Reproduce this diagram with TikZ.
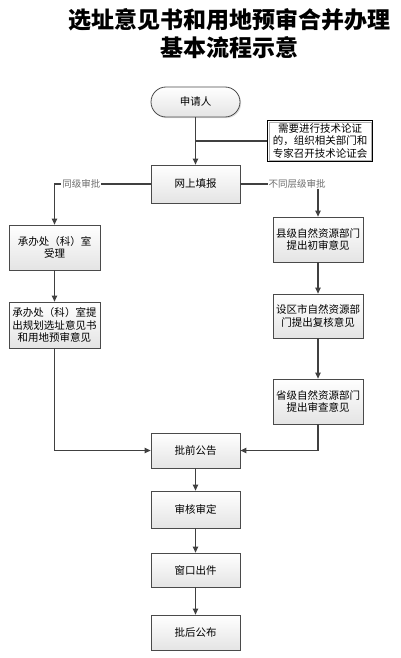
\documentclass[tikz,border=0pt]{standalone}
\usepackage{fontspec}
\setmainfont{Noto Sans CJK SC}
\usetikzlibrary{arrows.meta,shadows}
\definecolor{FlowLine}{HTML}{404040}
\definecolor{FlowBorder}{HTML}{4A4A4A}
\definecolor{FlowFill}{HTML}{E4E4E4}
\definecolor{FlowLabel}{HTML}{6E6E6E}

\begin{document}
\begin{tikzpicture}[x=1pt,y=-1pt,
  flowbox/.style={draw=FlowBorder,line width=.8pt,top color=white,bottom color=FlowFill,
    drop shadow={opacity=.25,shadow xshift=1.2pt,shadow yshift=-1.2pt},
    minimum width=90pt,minimum height=45pt,inner sep=1pt,align=center,
    font=\fontsize{10.5}{12.5}\selectfont},
  startbox/.style={flowbox,rounded corners=15pt,minimum width=89pt,minimum height=30pt},
  notebox/.style={draw=black,line width=.8pt,fill=white,minimum width=105pt,minimum height=41pt,
    inner sep=1pt,align=center,font=\fontsize{10.5}{12.5}\selectfont,
    path picture={\draw[gray!60,line width=.5pt]
      ([shift={(1.5pt,-1.5pt)}]path picture bounding box.north west) rectangle
      ([shift={(-1.5pt,1.5pt)}]path picture bounding box.south east);}},
  flowline/.style={draw=FlowLine,line width=1.1pt},
  flowarrow/.style={flowline,-{Triangle[length=6pt,width=5.5pt]}},
  flowlabel/.style={fill=white,inner sep=1pt,text=FlowLabel,font=\fontsize{9.5}{11}\selectfont}]
  \useasboundingbox (0,0) rectangle (401,658);

  \node[font=\fontsize{23}{28}\selectfont\bfseries,align=center] (title) at (229,34)
    {选址意见书和用地预审合并办理\\基本流程示意};

  \node[startbox] (apply) at (195.5,102) {申请人};
  \node[notebox] (note) at (320,141) {需要进行技术论证\\的，组织相关部门和\\专家召开技术论证会};
  \node[flowbox,minimum width=89pt,minimum height=38pt] (report) at (195.5,184) {网上填报};

  \node[flowbox,minimum width=91pt] (accept) at (54.5,247.5) {承办处（科）室\\受理};
  \node[flowbox,minimum width=91pt,minimum height=46pt] (opinion) at (54.5,325)
    {承办处（科）室提\\出规划选址意见书\\和用地预审意见};

  \node[flowbox] (county) at (318,239.5) {县级自然资源部门\\提出初审意见};
  \node[flowbox,minimum height=44pt] (city) at (318,316) {设区市自然资源部\\门提出复核意见};
  \node[flowbox] (province) at (318,401.5) {省级自然资源部门\\提出审查意见};

  \node[flowbox,minimum width=89pt,minimum height=35pt] (notice) at (195.5,450.5) {批前公告};
  \node[flowbox,minimum width=89pt,minimum height=37pt] (review) at (195.5,509.5) {审核审定};
  \node[flowbox,minimum width=89pt,minimum height=34pt] (window) at (195.5,570) {窗口出件};
  \node[flowbox,minimum width=89pt,minimum height=35pt] (publish) at (195.5,632.5) {批后公布};

  \coordinate (join) at (195.5,141);

  \draw[flowarrow] (apply) -- (report);
  \draw[flowline] (note.west) -- (join);
  \draw[flowarrow] (report.west) -| node[pos=.36,flowlabel] {同级审批} (accept.north);
  \draw[flowarrow] (report.east) -| node[pos=.365,flowlabel] {不同层级审批} (county.north);
  \draw[flowarrow] (accept) -- (opinion);
  \draw[flowarrow] (county) -- (city);
  \draw[flowarrow] (city) -- (province);
  \draw[flowarrow] (opinion.south) |- (notice.west);
  \draw[flowarrow] (province.south) |- (notice.east);
  \draw[flowarrow] (notice) -- (review);
  \draw[flowarrow] (review) -- (window);
  \draw[flowarrow] (window) -- (publish);
\end{tikzpicture}
\end{document}
